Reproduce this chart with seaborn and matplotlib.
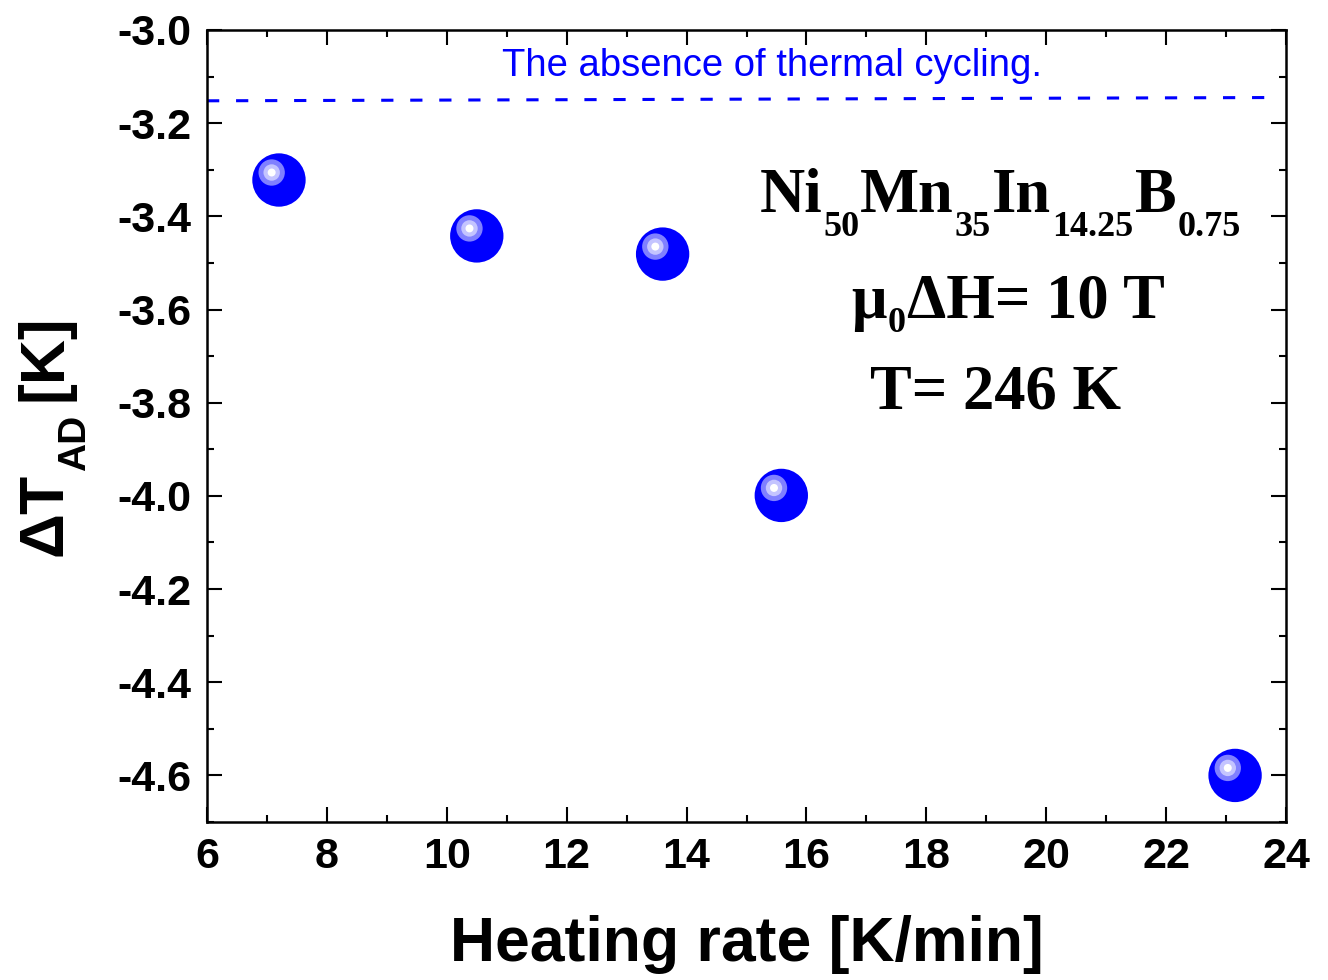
import matplotlib
matplotlib.use("Agg")
import math
import matplotlib.pyplot as plt
from matplotlib.transforms import ScaledTranslation
from matplotlib.ticker import MultipleLocator
import seaborn as sns
import pandas as pd

# Adiabatic temperature change vs. heating rate
heating_rate = [7.2, 10.5, 13.6, 15.58, 23.15]
delta_t_ad = [-3.322, -3.442, -3.481, -3.999, -4.600]

# Reference level measured without thermal cycling
ref_x = [6.0, 23.68]
ref_y = [-3.152, -3.145]

x_ticks = [6, 8, 10, 12, 14, 16, 18, 20, 22, 24]
y_ticks = [-3.0, -3.2, -3.4, -3.6, -3.8, -4.0, -4.2, -4.4, -4.6]

sns.set_style("ticks")
plt.rcParams.update({
    "font.family": ["Liberation Sans", "DejaVu Sans"],
    "font.weight": "bold",
    "text.color": "black",
    "axes.labelcolor": "black",
    "xtick.color": "black",
    "ytick.color": "black",
})

DPI = 100
df = pd.DataFrame({"rate": heating_rate, "dT": delta_t_ad})
ref = pd.DataFrame({"x": ref_x, "y": ref_y})

fig = plt.figure(figsize=(13.28, 9.80), dpi=DPI)
ax = fig.add_axes([0.1559, 0.1612, 0.8125, 0.8082])

sns.lineplot(data=ref, x="x", y="y", ax=ax, color="#0000ff", lw=2.2,
             dashes=False, estimator=None, sort=False)
ax.lines[-1].set_dashes([4.0, 5.5])

# Glossy sphere markers: solid body plus offset highlight rings
sns.scatterplot(data=df, x="rate", y="dT", ax=ax, s=1476, color="#0000ff",
                edgecolor="none", linewidth=0, zorder=3, legend=False)
shine = ax.transData + ScaledTranslation(-7.3 / DPI, 7.5 / DPI, fig.dpi_scale_trans)
for size, col in [(360, "#8080ff"), (140, "#c4c4ff"), (33, "#ffffff")]:
    ax.scatter(df["rate"], df["dT"], s=size, color=col, edgecolor="none",
               zorder=4, transform=shine)

ax.set_xlim(6, 24)
ax.set_ylim(-4.7, -3.0)
ax.set_xticks(x_ticks)
ax.set_yticks(y_ticks)
ax.set_xticklabels([str(v) for v in x_ticks])
ax.set_yticklabels([f"{v:.1f}" for v in y_ticks])
ax.xaxis.set_minor_locator(MultipleLocator(1))
ax.yaxis.set_minor_locator(MultipleLocator(0.1))

for sp in ax.spines.values():
    sp.set_visible(True)
    sp.set_linewidth(1.8)
    sp.set_color("black")

ax.tick_params(which="both", direction="in", top=True, right=True,
               width=1.5, color="black")
ax.tick_params(which="major", length=10.8, labelsize=31, pad=11)
ax.tick_params(which="minor", length=5.0)
for lab in ax.get_xticklabels() + ax.get_yticklabels():
    lab.set_fontweight("bold")

ax.set_xlabel("Heating rate [K/min]", fontsize=45, fontweight="bold", labelpad=27)
ax.set_ylabel("")

ax.text(0.5236, 0.942, "The absence of thermal cycling.", transform=ax.transAxes,
        ha="center", va="baseline", color="#0000ff", fontsize=27.5,
        fontweight="normal")

renderer = fig.canvas.get_renderer()


def place_pieces(x, y, transform, pieces, family, rotation=0):
    """Lay out text pieces along a baseline, centred on (x, y).

    pieces: (text, fontsize, drop_px, gap_before_px); drop lowers subscripts.
    """
    texts = []
    for s, size, drop, gap in pieces:
        t = fig.text(x, y, s, transform=transform, fontsize=size,
                     fontweight="bold", family=family, rotation=rotation,
                     rotation_mode="anchor", ha="left", va="baseline")
        texts.append(t)
    lengths = []
    for t in texts:
        bb = t.get_window_extent(renderer)
        lengths.append(bb.height if rotation == 90 else bb.width)
    total = sum(l + p[3] for l, p in zip(lengths, pieces))
    along = -total / 2
    c, s_ = math.cos(math.radians(rotation)), math.sin(math.radians(rotation))
    for t, l, (_, _, drop, gap) in zip(texts, lengths, pieces):
        along += gap
        dx = along * c + drop * s_
        dy = along * s_ - drop * c
        t.set_transform(transform + ScaledTranslation(dx / DPI, dy / DPI,
                                                      fig.dpi_scale_trans))
        along += l
    return texts


serif = ["Liberation Serif", "DejaVu Serif"]
sans = ["Liberation Sans", "DejaVu Sans"]
BIG, SUB = 45, 26

place_pieces(0.7349, 0.7702, ax.transAxes, [
    ("Ni", BIG, 0, 0), ("50", SUB, 24, 1), ("Mn", BIG, 0, 1),
    ("35", SUB, 24, 1), ("In", BIG, 0, 1), ("14.25", SUB, 24, 1),
    ("B", BIG, 0, 1), ("0.75", SUB, 24, 1),
], serif)
place_pieces(0.7424, 0.6364, ax.transAxes, [
    ("μ", BIG, 0, 0), ("0", SUB, 14, 1), ("ΔH= 10 T", BIG, 0, 1),
], serif)
place_pieces(0.7312, 0.5227, ax.transAxes, [("T= 246 K", BIG, 0, 0)], serif)

# Vertical axis title with lowered subscript
place_pieces(62 / 1328, 1 - 435 / 980, fig.transFigure, [
    ("ΔT", 45, 0, 0), ("AD", 28, 23, 2), ("[K]", 45, 0, 14),
], sans, rotation=90)

fig.savefig("out.png", dpi=DPI)
